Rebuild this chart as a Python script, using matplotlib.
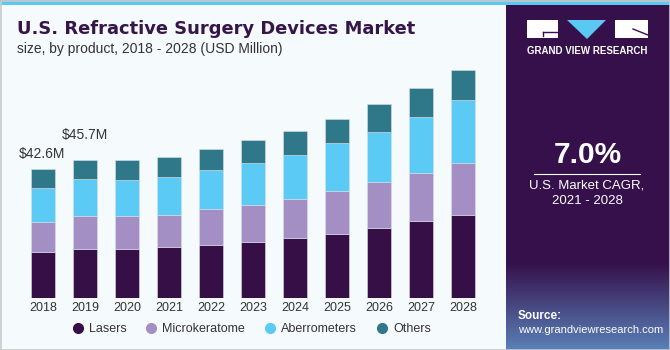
import matplotlib.pyplot as plt
import numpy as np
from matplotlib.patches import Rectangle, Polygon
from matplotlib.lines import Line2D
from matplotlib.colors import to_rgb

# Data (USD Million)
years = ['2018', '2019', '2020', '2021', '2022', '2023', '2024', '2025', '2026', '2027', '2028']
lasers = [15.2, 16.2, 16.1, 17.0, 17.6, 18.7, 20.0, 21.2, 23.1, 25.5, 27.5]
microkeratome = [10.0, 10.9, 11.0, 10.5, 11.8, 12.2, 12.7, 14.3, 15.3, 16.0, 17.1]
aberrometers = [11.3, 12.2, 12.0, 12.6, 13.0, 13.8, 14.6, 15.8, 16.7, 18.5, 21.0]
others = [6.1, 6.4, 6.6, 6.7, 7.0, 7.7, 8.0, 8.2, 9.2, 9.5, 10.0]
series_names = ['Lasers', 'Microkeratome', 'Aberrometers', 'Others']
series_colors = ['#370F47', '#A48FC4', '#5BCAF5', '#2F788A']
value_labels = ['$42.6M', '$45.7M']
label_offsets = [6, 13]  # points above bar top

plt.rcParams['font.family'] = ['Liberation Sans', 'DejaVu Sans']

fig = plt.figure(figsize=(6.7, 3.5), dpi=100)
fig.patch.set_facecolor('#F5FAFD')

# decoration layer in pixel coordinates
bg = fig.add_axes([0, 0, 1, 1], zorder=-1)
bg.axis('off')

# right panel + gradient near bottom
bg.add_patch(Rectangle((506, 0), 164, 350, color='#35104A', lw=0))
top_c = np.array(to_rgb('#35104A'))
bot_c = np.array(to_rgb('#5A80B8'))
t = np.linspace(0, 1, 100)[:, None]
grad = (top_c * (1 - t) + bot_c * t)[:, None, :]
bg.imshow(grad, extent=[506, 670, 350, 262], aspect='auto', zorder=1)
bg.set_xlim(0, 670)
bg.set_ylim(350, 0)

# top stripe and border
bg.add_patch(Rectangle((0, 0), 670, 5, color='#5BC8F2', lw=0, zorder=3))
bg.add_patch(Rectangle((0.5, 0.5), 669, 349, fill=False, ec='#C8C8C8', lw=1.2, zorder=4))

# logo
bg.add_patch(Rectangle((527, 20), 31, 18, color='white', lw=0, zorder=3))
bg.plot([543, 558], [32, 32], color='#35104A', lw=1, zorder=4)
bg.plot([543, 543], [32, 36], color='#35104A', lw=1, zorder=4)
bg.add_patch(Polygon([(567, 20), (606, 20), (587, 39)], color='#5BC8F2', lw=0, zorder=3))
bg.add_patch(Rectangle((615, 20), 33, 18, color='white', lw=0, zorder=3))
bg.plot([633, 648], [29, 35], color='#35104A', lw=1, zorder=4)
bg.text(587, 51, 'GRAND VIEW RESEARCH', color='white', fontsize=7, fontweight='bold',
        ha='center', va='center', zorder=4)

# CAGR block
bg.text(588, 155, '7.0%', color='white', fontsize=21.5, fontweight='bold',
        ha='center', va='center', zorder=4)
bg.plot([534, 640], [173.5, 173.5], color='white', lw=0.8, zorder=4)
bg.text(587, 185, 'U.S. Market CAGR,', color='white', fontsize=9.5, ha='center', va='center', zorder=4)
bg.text(587, 201, '2021 - 2028', color='white', fontsize=9.5, ha='center', va='center', zorder=4)
bg.text(518, 316, 'Source:', color='white', fontsize=8.5, fontweight='bold', ha='left', va='center', zorder=4)
bg.text(518, 330, 'www.grandviewresearch.com', color='white', fontsize=8, ha='left', va='center', zorder=4)

# titles
fig.text(17 / 670, 1 - 33.5 / 350, 'U.S. Refractive Surgery Devices Market', family='DejaVu Sans',
         fontsize=12.9, fontweight='bold', color='#361549', va='baseline')
fig.text(17 / 670, 1 - 53.5 / 350, 'size, by product, 2018 - 2028 (USD Million)',
         fontsize=10, color='#333333', va='baseline')

# chart
ax = fig.add_axes([10 / 670, 52 / 350, 486 / 670, 238 / 350])
ax.patch.set_alpha(0)
x = np.arange(len(years))
bottom = np.zeros(len(years))
for vals, name, col in zip([lasers, microkeratome, aberrometers, others], series_names, series_colors):
    ax.bar(x, vals, width=0.57, bottom=bottom, color=col, edgecolor='#D8DEE6', linewidth=0.4, label=name)
    bottom += np.array(vals)

for i, (lab, off) in enumerate(zip(value_labels, label_offsets)):
    ax.annotate(lab, xy=(x[i], bottom[i]), xytext=(-1 if i == 0 else 0, off), textcoords='offset points',
                ha='center', va='bottom', fontsize=10, color='#333333')

ax.set_xlim(-0.786, 10.786)
ax.set_ylim(0, 78.9)
ax.set_xticks(x)
ax.set_xticklabels(years, fontsize=9, color='#333333')
ax.tick_params(axis='x', length=0, pad=3)
ax.set_yticks([])
for s in ax.spines.values():
    s.set_visible(False)

handles = [Line2D([], [], marker='o', linestyle='', markersize=7, color=c) for c in series_colors]
fig.legend(handles, series_names, loc='center', bbox_to_anchor=(251 / 670, 1 - 329 / 350),
           ncol=4, frameon=False, fontsize=9, handlelength=1.0, handletextpad=0.38,
           columnspacing=1.5, labelcolor='#333333')

fig.savefig('out.png', dpi=100, facecolor=fig.get_facecolor())
